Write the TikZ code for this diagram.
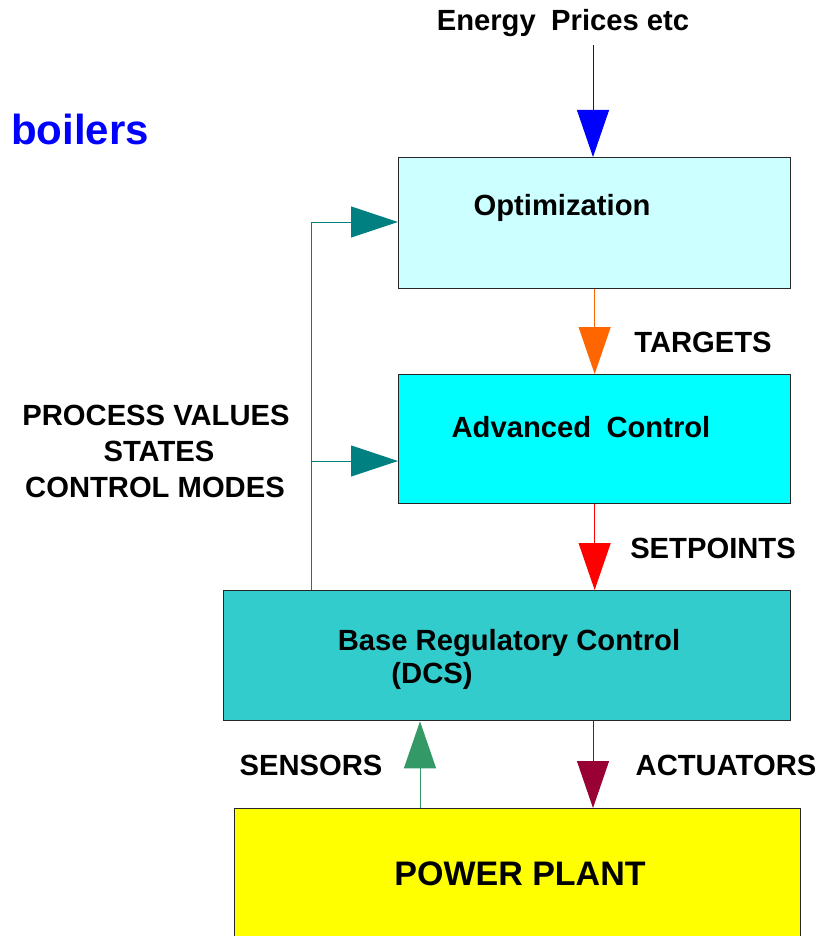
\documentclass[tikz,border=0pt]{standalone}
\usepackage{fontspec}
\setmainfont{Liberation Sans}
\usetikzlibrary{arrows.meta}
\definecolor{optfill}{HTML}{CCFFFF}
\definecolor{advfill}{HTML}{00FFFF}
\definecolor{basefill}{HTML}{33CCCC}
\definecolor{plantfill}{HTML}{FFFF00}
\definecolor{fbteal}{HTML}{008080}
\definecolor{tgtorange}{HTML}{FF6600}
\definecolor{sensgreen}{HTML}{339966}
\definecolor{actred}{HTML}{990033}
\tikzset{
  blockbox/.style={draw=black!85, line width=1.3pt, inner sep=0pt, anchor=north west},
  lbl/.style={font=\bfseries\fontsize{29.2}{34}\selectfont, inner sep=0pt, anchor=base, align=center},
  flow/.style={line width=1pt, -{Triangle[length=47pt,width=32pt]}},
}
\begin{document}
\begin{tikzpicture}[x=1pt,y=-1pt]
\useasboundingbox[fill=white] (0,0) rectangle (832,936);
% boxes
\node[blockbox, fill=optfill, minimum width=392pt, minimum height=131pt] (opt) at (398,157) {};
\node[blockbox, fill=advfill, minimum width=392pt, minimum height=129pt] (adv) at (398,374) {};
\node[blockbox, fill=basefill, minimum width=567pt, minimum height=130pt] (base) at (223,590) {};
\node[blockbox, fill=plantfill, minimum width=566pt, minimum height=150pt] (plant) at (234,808) {};
% texts
\node[lbl] (energy) at (563,31) {Energy\hspace{0.25em} Prices etc};
\node[font=\bfseries\fontsize{42}{48}\selectfont, text=blue, inner sep=0pt, anchor=base west] (boilers) at (11,145) {boilers};
\node[lbl] (optt) at (562,215) {Optimization};
\node[lbl] (tgt) at (703,352) {TARGETS};
\node[lbl] (advt) at (581,437) {Advanced\hspace{0.25em} Control};
\node[lbl] (pv1) at (156,425) {PROCESS VALUES};
\node[lbl] (pv2) at (159,461) {STATES};
\node[lbl] (pv3) at (155,497) {CONTROL MODES};
\node[lbl] (sp) at (713,558) {SETPOINTS};
\node[lbl] (baset) at (509,650) {Base Regulatory Control};
\node[lbl] (dcs) at (432,683) {(DCS)};
\node[lbl] (sens) at (311,775) {SENSORS};
\node[lbl] (act) at (726,775) {ACTUATORS};
\node[font=\bfseries\fontsize{34}{40}\selectfont, inner sep=0pt, anchor=base] (plantt) at (520,885) {POWER PLANT};
% connectors
\coordinate (etop) at (593,45);
\draw[flow, blue] (etop) -- (etop |- opt.north);
\draw[flow, tgtorange] (opt.south) -- (adv.north);
\draw[flow, red] (adv.south) -- (adv.south |- base.north);
\coordinate (sx) at (420,0);
\coordinate (ax) at (593,0);
\draw[flow, sensgreen] (sx |- plant.north) -- (sx |- base.south);
\draw[flow, actred] (ax |- base.south) -- (ax |- plant.north);
\coordinate (fbtop) at (311,222);
\coordinate (fbmid) at (311,461);
\coordinate (optin) at (398,222);
\coordinate (advin) at (398,461);
\draw[fbteal, line width=1pt] (fbtop |- base.north) -- (fbtop);
\draw[flow, fbteal, -{Triangle[length=47pt,width=31pt]}] (fbtop) -- (optin);
\draw[flow, fbteal, -{Triangle[length=47pt,width=31pt]}] (fbmid) -- (advin);
\end{tikzpicture}
\end{document}
